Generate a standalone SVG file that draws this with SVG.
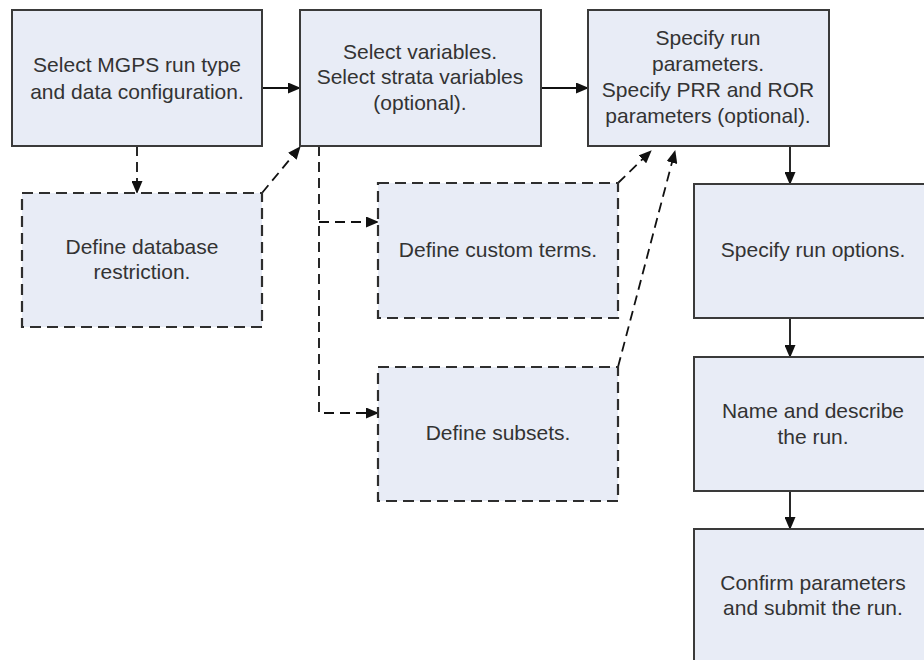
<svg xmlns="http://www.w3.org/2000/svg" width="924" height="660" viewBox="0 0 924 660">
<defs>
<marker id="ah" markerWidth="13" markerHeight="11" refX="12" refY="5.5" orient="auto" markerUnits="userSpaceOnUse">
<path d="M0,0 L13,5.5 L0,11 z" fill="#111"/>
</marker>
<style>
.box{fill:#E8ECF6;stroke:#3a3a3a;stroke-width:2}
.dbox{fill:#E8ECF6;stroke:#2e2e2e;stroke-width:2.2;stroke-dasharray:11 6}
.t{font-family:"Liberation Sans",Arial,sans-serif;font-size:21px;fill:#333;text-anchor:middle}
.c{fill:none;stroke:#111;stroke-width:1.8}
.d{fill:none;stroke:#111;stroke-width:1.8;stroke-dasharray:10 6}
</style>
</defs>
<rect width="924" height="660" fill="#fff"/>
<g id="connectors">
<path class="c" d="M262,88 L300,88" marker-end="url(#ah)"/>
<path class="c" d="M541,88 L588,88" marker-end="url(#ah)"/>
<path class="c" d="M790,146 L790,184" marker-end="url(#ah)"/>
<path class="c" d="M790,318 L790,357" marker-end="url(#ah)"/>
<path class="c" d="M790,491 L790,529" marker-end="url(#ah)"/>
<path class="d" d="M137,146 L137,193" marker-end="url(#ah)"/>
<path class="d" d="M262,193 L300,147" marker-end="url(#ah)"/>
<path class="d" d="M319,146 L319,413 L378,413" marker-end="url(#ah)"/>
<path class="d" d="M319,222 L378,222" marker-end="url(#ah)"/>
<path class="d" d="M618,183 L651,151" marker-end="url(#ah)"/>
<path class="d" d="M618,367 L675,151" marker-end="url(#ah)"/>
</g>
<g id="n1"><rect class="box" x="12" y="10" width="250" height="136"/>
<text class="t" x="137" y="72">Select MGPS run type</text><text class="t" x="137" y="99">and data configuration.</text></g>
<g id="n2"><rect class="box" x="300" y="10" width="241" height="136"/>
<text class="t" x="420" y="59">Select variables.</text><text class="t" x="420" y="84">Select strata variables</text><text class="t" x="420" y="110">(optional).</text></g>
<g id="n3"><rect class="box" x="588" y="10" width="241" height="136"/>
<text class="t" x="708" y="45">Specify run</text><text class="t" x="708" y="71">parameters.</text><text class="t" x="708" y="97">Specify PRR and ROR</text><text class="t" x="708" y="123">parameters (optional).</text></g>
<g id="n4"><rect class="dbox" x="22" y="193" width="240" height="134"/>
<text class="t" x="142" y="254">Define database</text><text class="t" x="142" y="279">restriction.</text></g>
<g id="n5"><rect class="dbox" x="378" y="183" width="240" height="135"/>
<text class="t" x="498" y="257">Define custom terms.</text></g>
<g id="n6"><rect class="dbox" x="378" y="367" width="240" height="134"/>
<text class="t" x="498" y="440">Define subsets.</text></g>
<g id="n7"><rect class="box" x="694" y="184" width="238" height="134"/>
<text class="t" x="813" y="257">Specify run options.</text></g>
<g id="n8"><rect class="box" x="694" y="357" width="238" height="134"/>
<text class="t" x="813" y="418">Name and describe</text><text class="t" x="813" y="444">the run.</text></g>
<g id="n9"><rect class="box" x="694" y="529" width="238" height="136"/>
<text class="t" x="813" y="590">Confirm parameters</text><text class="t" x="813" y="615">and submit the run.</text></g>
</svg>
